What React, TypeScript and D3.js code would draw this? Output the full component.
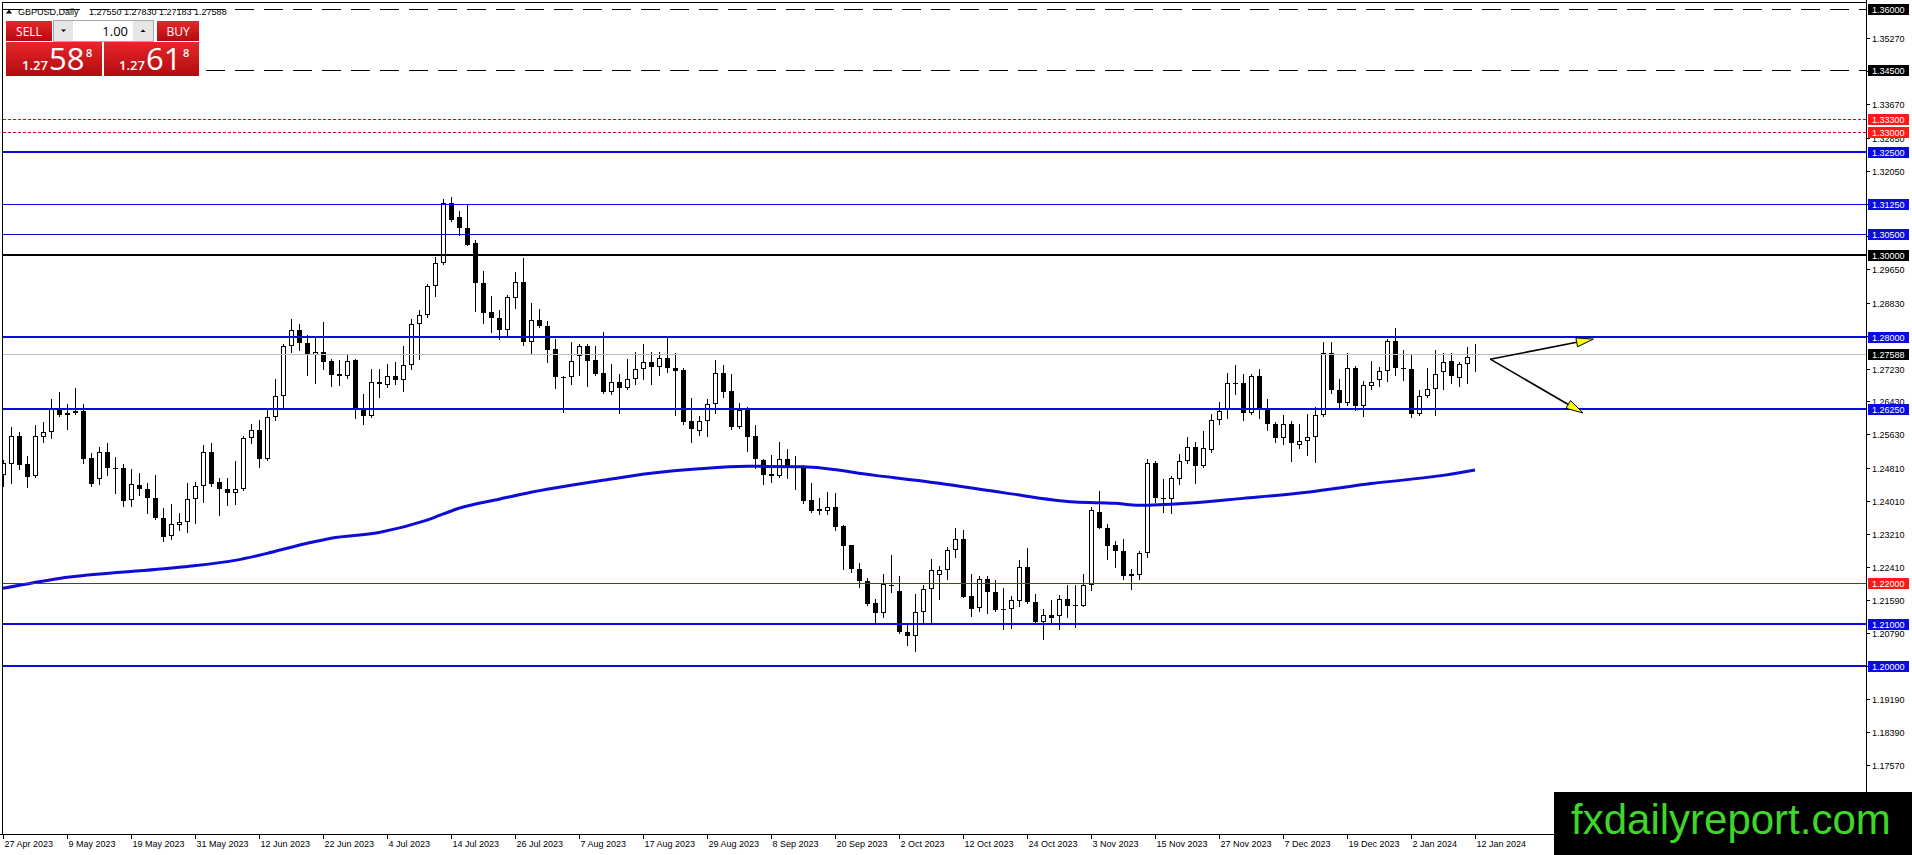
import { useEffect, useRef } from 'react'
import * as d3 from 'd3'

// daily GBPUSD bars, 27 Apr 2023 .. 12 Jan 2024
const dateLabels = [
  '27 Apr 2023', '9 May 2023', '19 May 2023', '31 May 2023', '12 Jun 2023', '22 Jun 2023',
  '4 Jul 2023', '14 Jul 2023', '26 Jul 2023', '7 Aug 2023', '17 Aug 2023', '29 Aug 2023',
  '8 Sep 2023', '20 Sep 2023', '2 Oct 2023', '12 Oct 2023', '24 Oct 2023', '3 Nov 2023',
  '15 Nov 2023', '27 Nov 2023', '7 Dec 2023', '19 Dec 2023', '2 Jan 2024', '12 Jan 2024'
]
const barsPerLabel = 8

const opens = [
  1.2464, 1.2491, 1.2559, 1.2491, 1.2461, 1.2557, 1.2568, 1.2628, 1.2614, 1.2615,
  1.2619, 1.2506, 1.2454, 1.2521, 1.2481, 1.2481, 1.2403, 1.2440, 1.2431, 1.2407,
  1.2359, 1.2316, 1.2342, 1.2349, 1.2405, 1.2437, 1.2521, 1.2446, 1.2431, 1.2419,
  1.2430, 1.2553, 1.2573, 1.2504, 1.2606, 1.2657, 1.2777, 1.2818, 1.2786, 1.2757,
  1.2763, 1.2741, 1.2709, 1.2706, 1.2743, 1.2627, 1.2607, 1.2691, 1.2684, 1.2706,
  1.2696, 1.2733, 1.2832, 1.2853, 1.2925, 1.2981, 1.3126, 1.3093, 1.3066, 1.3030,
  1.2932, 1.2860, 1.2846, 1.2818, 1.2896, 1.2934, 1.2788, 1.2841, 1.2828, 1.2770,
  1.2703, 1.2702, 1.2753, 1.2777, 1.2743, 1.2713, 1.2666, 1.2690, 1.2676, 1.2698,
  1.2723, 1.2739, 1.2727, 1.2750, 1.2725, 1.2719, 1.2595, 1.2572, 1.2595, 1.2638,
  1.2713, 1.2669, 1.2581, 1.2622, 1.2559, 1.2500, 1.2467, 1.2461, 1.2502, 1.2485,
  1.2484, 1.2403, 1.2381, 1.2377, 1.2385, 1.2340, 1.2293, 1.2235, 1.2205, 1.2152,
  1.2129, 1.2197, 1.2182, 1.2082, 1.2071, 1.2130, 1.2186, 1.2220, 1.2233, 1.2282,
  1.2308, 1.2170, 1.2140, 1.2211, 1.2180, 1.2137, 1.2137, 1.2157, 1.2241, 1.2155,
  1.2105, 1.2124, 1.2121, 1.2162, 1.2148, 1.2146, 1.2196, 1.2375, 1.2336, 1.2294,
  1.2279, 1.2218, 1.2220, 1.2274, 1.2492, 1.2409, 1.2406, 1.2453, 1.2499, 1.2531,
  1.2487, 1.2526, 1.2599, 1.2622, 1.2687, 1.2687, 1.2616, 1.2704, 1.2625, 1.2587,
  1.2553, 1.2587, 1.2538, 1.2547, 1.2557, 1.2611, 1.2760, 1.2672, 1.2640, 1.2725,
  1.2632, 1.2681, 1.2696, 1.2718, 1.2790, 1.2725, 1.2723, 1.2612, 1.2656, 1.2674,
  1.2714, 1.2742, 1.2701, 1.2735, 1.2755
]
const highs = [
  1.2500, 1.2581, 1.2569, 1.2510, 1.2585, 1.2594, 1.2649, 1.2666, 1.2636, 1.2677,
  1.2638, 1.2517, 1.2533, 1.2543, 1.2508, 1.2491, 1.2479, 1.2470, 1.2444, 1.2465,
  1.2383, 1.2393, 1.2371, 1.2444, 1.2448, 1.2537, 1.2541, 1.2456, 1.2456, 1.2498,
  1.2559, 1.2588, 1.2598, 1.2623, 1.2697, 1.2784, 1.2845, 1.2832, 1.2804, 1.2800,
  1.2836, 1.2747, 1.2745, 1.2755, 1.2747, 1.2662, 1.2723, 1.2723, 1.2735, 1.2739,
  1.2777, 1.2845, 1.2865, 1.2930, 1.2996, 1.3136, 1.3140, 1.3106, 1.3122, 1.3037,
  1.2960, 1.2901, 1.2865, 1.2903, 1.2958, 1.2992, 1.2884, 1.2869, 1.2839, 1.2796,
  1.2705, 1.2788, 1.2784, 1.2782, 1.2777, 1.2812, 1.2735, 1.2711, 1.2747, 1.2764,
  1.2784, 1.2763, 1.2763, 1.2800, 1.2760, 1.2725, 1.2652, 1.2607, 1.2650, 1.2743,
  1.2731, 1.2711, 1.2640, 1.2630, 1.2585, 1.2504, 1.2512, 1.2544, 1.2527, 1.2510,
  1.2488, 1.2445, 1.2407, 1.2423, 1.2421, 1.2342, 1.2293, 1.2249, 1.2214, 1.2163,
  1.2222, 1.2269, 1.2218, 1.2103, 1.2175, 1.2197, 1.2260, 1.2243, 1.2288, 1.2335,
  1.2330, 1.2223, 1.2218, 1.2217, 1.2209, 1.2188, 1.2170, 1.2257, 1.2286, 1.2175,
  1.2137, 1.2160, 1.2172, 1.2197, 1.2197, 1.2223, 1.2385, 1.2425, 1.2345, 1.2302,
  1.2308, 1.2235, 1.2280, 1.2502, 1.2497, 1.2454, 1.2461, 1.2515, 1.2557, 1.2545,
  1.2571, 1.2612, 1.2642, 1.2712, 1.2731, 1.2709, 1.2711, 1.2721, 1.2649, 1.2593,
  1.2610, 1.2596, 1.2588, 1.2612, 1.2630, 1.2789, 1.2787, 1.2698, 1.2760, 1.2729,
  1.2693, 1.2741, 1.2727, 1.2796, 1.2823, 1.2769, 1.2755, 1.2672, 1.2725, 1.2768,
  1.2762, 1.2762, 1.2739, 1.2776, 1.2783
]
const lows = [
  1.2436, 1.2444, 1.2478, 1.2434, 1.2458, 1.2545, 1.2555, 1.2608, 1.2575, 1.2612,
  1.2494, 1.2438, 1.2442, 1.2464, 1.2419, 1.2389, 1.2389, 1.2415, 1.2371, 1.2356,
  1.2304, 1.2308, 1.2330, 1.2325, 1.2346, 1.2397, 1.2437, 1.2367, 1.2391, 1.2393,
  1.2427, 1.2541, 1.2484, 1.2500, 1.2598, 1.2625, 1.2764, 1.2768, 1.2708, 1.2687,
  1.2723, 1.2681, 1.2683, 1.2701, 1.2603, 1.2587, 1.2605, 1.2654, 1.2679, 1.2685,
  1.2669, 1.2723, 1.2747, 1.2849, 1.2900, 1.2978, 1.3083, 1.3049, 1.3024, 1.2863,
  1.2834, 1.2812, 1.2794, 1.2804, 1.2871, 1.2780, 1.2760, 1.2824, 1.2738, 1.2677,
  1.2618, 1.2685, 1.2707, 1.2681, 1.2707, 1.2664, 1.2662, 1.2614, 1.2674, 1.2685,
  1.2697, 1.2685, 1.2707, 1.2715, 1.2610, 1.2587, 1.2545, 1.2561, 1.2559, 1.2615,
  1.2654, 1.2575, 1.2579, 1.2523, 1.2480, 1.2442, 1.2447, 1.2460, 1.2456, 1.2431,
  1.2395, 1.2375, 1.2368, 1.2369, 1.2330, 1.2235, 1.2227, 1.2191, 1.2148, 1.2107,
  1.2118, 1.2178, 1.2079, 1.2049, 1.2035, 1.2103, 1.2103, 1.2162, 1.2210, 1.2265,
  1.2166, 1.2120, 1.2132, 1.2129, 1.2132, 1.2089, 1.2091, 1.2146, 1.2152, 1.2103,
  1.2065, 1.2103, 1.2089, 1.2118, 1.2094, 1.2146, 1.2184, 1.2334, 1.2259, 1.2239,
  1.2210, 1.2186, 1.2210, 1.2264, 1.2399, 1.2373, 1.2371, 1.2442, 1.2492, 1.2445,
  1.2484, 1.2520, 1.2588, 1.2603, 1.2661, 1.2598, 1.2612, 1.2602, 1.2573, 1.2545,
  1.2539, 1.2499, 1.2530, 1.2512, 1.2496, 1.2607, 1.2664, 1.2626, 1.2634, 1.2622,
  1.2608, 1.2674, 1.2680, 1.2693, 1.2708, 1.2695, 1.2606, 1.2611, 1.2654, 1.2609,
  1.2674, 1.2687, 1.2680, 1.2687, 1.2718
]
const closes = [
  1.2494, 1.2560, 1.2488, 1.2460, 1.2558, 1.2568, 1.2625, 1.2610, 1.2611, 1.2620,
  1.2504, 1.2441, 1.2521, 1.2480, 1.2479, 1.2401, 1.2441, 1.2431, 1.2407, 1.2359,
  1.2314, 1.2344, 1.2349, 1.2405, 1.2437, 1.2521, 1.2442, 1.2429, 1.2419, 1.2431,
  1.2555, 1.2573, 1.2504, 1.2606, 1.2657, 1.2777, 1.2818, 1.2785, 1.2757, 1.2763,
  1.2739, 1.2708, 1.2706, 1.2742, 1.2625, 1.2607, 1.2691, 1.2685, 1.2706, 1.2696,
  1.2733, 1.2832, 1.2854, 1.2925, 1.2981, 1.3126, 1.3085, 1.3066, 1.3025, 1.2931,
  1.2858, 1.2846, 1.2818, 1.2897, 1.2934, 1.2788, 1.2842, 1.2827, 1.2769, 1.2703,
  1.2700, 1.2742, 1.2777, 1.2742, 1.2709, 1.2666, 1.2690, 1.2677, 1.2698, 1.2723,
  1.2739, 1.2727, 1.2750, 1.2725, 1.2717, 1.2593, 1.2575, 1.2595, 1.2638, 1.2713,
  1.2666, 1.2581, 1.2622, 1.2557, 1.2502, 1.2465, 1.2461, 1.2502, 1.2484, 1.2483,
  1.2401, 1.2377, 1.2377, 1.2385, 1.2338, 1.2291, 1.2235, 1.2205, 1.2150, 1.2129,
  1.2198, 1.2193, 1.2081, 1.2071, 1.2130, 1.2187, 1.2233, 1.2233, 1.2282, 1.2308,
  1.2168, 1.2137, 1.2211, 1.2178, 1.2134, 1.2134, 1.2159, 1.2241, 1.2154, 1.2105,
  1.2124, 1.2116, 1.2162, 1.2144, 1.2144, 1.2196, 1.2379, 1.2336, 1.2291, 1.2278,
  1.2217, 1.2223, 1.2274, 1.2492, 1.2409, 1.2406, 1.2456, 1.2499, 1.2531, 1.2487,
  1.2529, 1.2599, 1.2620, 1.2687, 1.2685, 1.2616, 1.2706, 1.2625, 1.2587, 1.2553,
  1.2587, 1.2542, 1.2547, 1.2557, 1.2611, 1.2760, 1.2672, 1.2640, 1.2725, 1.2632,
  1.2684, 1.2691, 1.2718, 1.2790, 1.2725, 1.2722, 1.2612, 1.2657, 1.2674, 1.2711,
  1.2740, 1.2704, 1.2735, 1.2751, 1.2759
]

// moving average, read at a number of bars
const maBars = [0, 7, 22, 29, 33, 37, 41, 47, 53, 57, 62, 66, 71, 75, 81, 87, 93, 100, 109, 117, 125, 134, 139, 142, 148, 155, 163, 171, 180, 184]
const maValues = [
  1.2188, 1.2212, 1.2239, 1.2256, 1.2273, 1.2293, 1.2310, 1.2324, 1.2354, 1.2383,
  1.2405, 1.2422, 1.2439, 1.2451, 1.2468, 1.2479, 1.2485, 1.2484, 1.2463, 1.2444,
  1.2421, 1.2398, 1.2395, 1.2390, 1.2395, 1.2407, 1.2422, 1.2443, 1.2463, 1.2476
]

// horizontal levels drawn on the chart
const levelPrices = [1.36, 1.345, 1.333, 1.33, 1.325, 1.3125, 1.305, 1.3, 1.28, 1.2625, 1.22, 1.21, 1.2]
const lastPrice = 1.27588

// price axis ticks
const tickValues = [
  1.3527, 1.3447, 1.3367, 1.3285, 1.3205, 1.3125, 1.3045, 1.2965, 1.2883, 1.2803,
  1.2723, 1.2643, 1.2563, 1.2481, 1.2401, 1.2321, 1.2241, 1.2159, 1.2079, 1.1999,
  1.1919, 1.1839, 1.1757
]

// the two arrows drawn to the right of the last bar
const arrowStart = { bar: 185.9, price: 1.2746 }
const arrowEnds = [
  { bar: 198.8, price: 1.2795 },
  { bar: 197.5, price: 1.2615 }
]

const symbolTitle = 'GBPUSD,Daily'
const ohlcTitle = '1.27550 1.27830 1.27183 1.27588'
const sellQuote = ['1.27', '58', '8']
const buyQuote = ['1.27', '61', '8']

const BLUE = '#0a0ae6'
const RED = '#ee0000'
const levelStyles = [
  { stroke: '#000', width: 1, dash: '19,10', box: '#000' },
  { stroke: '#000', width: 1, dash: '19,10', box: '#000' },
  { stroke: RED, width: 1, dash: '3,2', box: '#ff1a1a' },
  { stroke: RED, width: 1, dash: '3,2', box: '#ff1a1a' },
  { stroke: BLUE, width: 2, dash: null, box: BLUE },
  { stroke: BLUE, width: 1, dash: null, box: BLUE },
  { stroke: BLUE, width: 1, dash: null, box: BLUE },
  { stroke: '#000', width: 2, dash: null, box: '#000' },
  { stroke: BLUE, width: 2, dash: null, box: BLUE },
  { stroke: BLUE, width: 2, dash: null, box: BLUE },
  { stroke: '#dd0000', width: 1, dash: null, box: '#ff1a1a' },
  { stroke: BLUE, width: 2, dash: null, box: BLUE },
  { stroke: BLUE, width: 2, dash: null, box: BLUE }
]

const W = 1912
const H = 855

export default function App() {
  const svgRef = useRef<SVGSVGElement>(null)

  useEffect(() => {
    if (!svgRef.current) return
    const svg = d3.select(svgRef.current)
    svg.selectAll('*').remove()

    const axisX = 1866
    const axisY = 834
    const font = '"Liberation Sans", Arial, sans-serif'
    const panelFont = '"Open Sans", "Noto Sans", sans-serif'

    const x = d3.scaleLinear().domain([0, opens.length - 1]).range([3, 3 + 8 * (opens.length - 1)])
    const y = d3.scaleLinear().domain([1.2, 1.36]).range([665.5, 8.5])

    svg.append('rect').attr('width', W).attr('height', H).attr('fill', '#fff')

    const defs = svg.append('defs')
    defs.append('clipPath').attr('id', 'plot-clip')
      .append('rect').attr('x', 3).attr('y', 3).attr('width', axisX - 3).attr('height', axisY - 3)
    const red = defs.append('linearGradient').attr('id', 'red-grad')
      .attr('x1', '0%').attr('y1', '0%').attr('x2', '0%').attr('y2', '100%')
    red.append('stop').attr('offset', '0%').attr('stop-color', '#e8262b')
    red.append('stop').attr('offset', '100%').attr('stop-color', '#b10b0e')

    // frame
    const frame = svg.append('g').attr('shape-rendering', 'crispEdges')
    frame.append('line').attr('x1', 2.5).attr('x2', 2.5).attr('y1', 2).attr('y2', axisY).attr('stroke', '#000')
    frame.append('line').attr('x1', 2).attr('x2', axisX).attr('y1', 2.5).attr('y2', 2.5).attr('stroke', '#000')
    frame.append('line').attr('x1', 0).attr('x2', axisX + 1).attr('y1', axisY + 0.5).attr('y2', axisY + 0.5).attr('stroke', '#000')
    frame.append('line').attr('x1', axisX + 0.5).attr('x2', axisX + 0.5).attr('y1', 0).attr('y2', axisY + 1).attr('stroke', '#000')

    // candles
    const bars = d3.range(opens.length)
    const plot = svg.append('g').attr('clip-path', 'url(#plot-clip)').attr('shape-rendering', 'crispEdges')
    plot.selectAll('line.wick').data(bars).join('line')
      .attr('class', 'wick')
      .attr('x1', i => Math.round(x(i)) + 0.5)
      .attr('x2', i => Math.round(x(i)) + 0.5)
      .attr('y1', i => Math.round(y(highs[i])))
      .attr('y2', i => Math.round(y(lows[i])) + 1)
      .attr('stroke', '#000')
    plot.selectAll('rect.body').data(bars).join('rect')
      .attr('class', 'body')
      .each(function (i) {
        const cx = Math.round(x(i))
        const top = Math.round(y(Math.max(opens[i], closes[i])))
        const bot = Math.round(y(Math.min(opens[i], closes[i])))
        const h = Math.max(bot - top, 1)
        const el = d3.select(this)
        if (closes[i] >= opens[i]) {
          el.attr('x', cx - 1.5).attr('y', top + 0.5).attr('width', 4).attr('height', Math.max(h - 1, 0.01))
            .attr('fill', '#fff').attr('stroke', '#000')
        } else {
          el.attr('x', cx - 2).attr('y', top).attr('width', 5).attr('height', h).attr('fill', '#000')
        }
      })

    // moving average
    const maLine = d3.line<number>()
      .x((d, i) => x(maBars[i]))
      .y(d => y(d))
      .curve(d3.curveMonotoneX)
    svg.append('path')
      .attr('clip-path', 'url(#plot-clip)')
      .attr('d', maLine(maValues))
      .attr('fill', 'none')
      .attr('stroke', '#0c0cd6')
      .attr('stroke-width', 3)

    // horizontal levels
    const levels = svg.append('g').attr('clip-path', 'url(#plot-clip)').attr('shape-rendering', 'crispEdges')
    levelPrices.forEach((p, k) => {
      const st = levelStyles[k]
      const py = Math.round(y(p)) + (st.width === 1 ? 0.5 : 0)
      const ln = levels.append('line')
        .attr('x1', 3).attr('x2', axisX).attr('y1', py).attr('y2', py)
        .attr('stroke', st.stroke).attr('stroke-width', st.width)
      if (st.dash) ln.attr('stroke-dasharray', st.dash)
    })
    const lastY = Math.round(y(lastPrice)) + 0.5
    levels.append('line').attr('x1', 3).attr('x2', axisX).attr('y1', lastY).attr('y2', lastY)
      .attr('stroke', '#c0c0c0')

    // arrows
    const arrows = svg.append('g')
    const sx = x(arrowStart.bar)
    const sy = y(arrowStart.price)
    arrowEnds.forEach(e => {
      const ex = x(e.bar)
      const ey = y(e.price)
      const len = Math.hypot(ex - sx, ey - sy)
      const ux = (ex - sx) / len
      const uy = (ey - sy) / len
      const bx = ex - ux * 17
      const by = ey - uy * 17
      arrows.append('line').attr('x1', sx).attr('y1', sy).attr('x2', bx).attr('y2', by)
        .attr('stroke', '#000').attr('stroke-width', 1.6)
      arrows.append('polygon')
        .attr('points', [[ex, ey], [bx - uy * 4.5, by + ux * 4.5], [bx + uy * 4.5, by - ux * 4.5]].map(q => q.join(',')).join(' '))
        .attr('fill', '#ffff00').attr('stroke', '#000').attr('stroke-width', 1)
    })

    // price axis
    const yAxis = svg.append('g').attr('font-family', font).attr('font-size', 9)
    tickValues.forEach(v => {
      const ty = Math.round(y(v)) + 0.5
      yAxis.append('line').attr('x1', axisX).attr('x2', axisX + 4).attr('y1', ty).attr('y2', ty)
        .attr('stroke', '#000').attr('shape-rendering', 'crispEdges')
      yAxis.append('text').attr('x', axisX + 6).attr('y', ty + 3.3).attr('fill', '#000').text(v.toFixed(5))
    })
    const boxes = [...levelPrices.map((p, k) => ({ p, c: levelStyles[k].box })), { p: lastPrice, c: '#000' }]
    boxes.forEach(b => {
      const by = Math.round(y(b.p))
      yAxis.append('rect').attr('x', axisX + 2).attr('y', by - 5).attr('width', 41).attr('height', 11)
        .attr('fill', b.c).attr('shape-rendering', 'crispEdges')
      yAxis.append('text').attr('x', axisX + 6).attr('y', by + 3.8).attr('fill', '#fff').text(b.p.toFixed(5))
    })

    // time axis
    const xAxis = svg.append('g').attr('font-family', font).attr('font-size', 9)
    dateLabels.forEach((lab, k) => {
      const tx = Math.round(x(k * barsPerLabel)) + 0.5
      xAxis.append('line').attr('x1', tx).attr('x2', tx).attr('y1', axisY).attr('y2', axisY + 5)
        .attr('stroke', '#000').attr('shape-rendering', 'crispEdges')
      xAxis.append('text').attr('x', tx + 1).attr('y', axisY + 13).attr('fill', '#000').text(lab)
    })

    // title line
    svg.append('polygon').attr('points', '6,13.5 12,13.5 9,9.5').attr('fill', '#000')
    svg.append('text').attr('x', 18).attr('y', 15).attr('font-family', font).attr('font-size', 9)
      .attr('fill', '#000').text(symbolTitle)
    svg.append('text').attr('x', 89).attr('y', 15).attr('font-family', font).attr('font-size', 9)
      .attr('fill', '#000').attr('xml:space', 'preserve').text(ohlcTitle)

    // one-click trading panel
    const panel = svg.append('g').attr('font-family', panelFont)
    panel.append('rect').attr('x', 3).attr('y', 18).attr('width', 199).attr('height', 60).attr('fill', '#fff')
    panel.append('rect').attr('x', 6).attr('y', 21).attr('width', 46).attr('height', 20).attr('fill', 'url(#red-grad)')
    panel.append('rect').attr('x', 157).attr('y', 21).attr('width', 42).attr('height', 20).attr('fill', 'url(#red-grad)')
    panel.append('text').attr('x', 29).attr('y', 35.5).attr('text-anchor', 'middle').attr('font-size', 12)
      .attr('fill', '#fff').text('SELL')
    panel.append('text').attr('x', 178).attr('y', 35.5).attr('text-anchor', 'middle').attr('font-size', 12)
      .attr('fill', '#fff').text('BUY')
    panel.append('rect').attr('x', 53.5).attr('y', 20.5).attr('width', 100).attr('height', 21)
      .attr('fill', '#fff').attr('stroke', '#a8a8a8')
    panel.append('rect').attr('x', 54).attr('y', 21).attr('width', 19).attr('height', 20).attr('fill', '#e6e6e6')
    panel.append('rect').attr('x', 133).attr('y', 21).attr('width', 20).attr('height', 20).attr('fill', '#e6e6e6')
    panel.append('polygon').attr('points', '61,29.5 66,29.5 63.5,32').attr('fill', '#000')
    panel.append('polygon').attr('points', '140.5,32 145.5,32 143,29.5').attr('fill', '#000')
    panel.append('text').attr('x', 128).attr('y', 35.5).attr('text-anchor', 'end').attr('font-size', 13)
      .attr('fill', '#000').text('1.00')

    const quote = (x0: number, w: number, q: string[], tx: number) => {
      panel.append('rect').attr('x', x0).attr('y', 42).attr('width', w).attr('height', 34).attr('fill', 'url(#red-grad)')
      panel.append('text').attr('x', tx).attr('y', 70).attr('font-size', 13).attr('font-weight', 600)
        .attr('fill', '#fff').text(q[0])
      panel.append('text').attr('x', tx + 27).attr('y', 69.5).attr('font-size', 31)
        .attr('fill', '#fff').text(q[1])
      panel.append('text').attr('x', tx + 64).attr('y', 57).attr('font-size', 11).attr('font-weight', 600)
        .attr('fill', '#fff').text(q[2])
    }
    quote(6, 96, sellQuote, 22)
    quote(104, 95, buyQuote, 119)

    // watermark
    svg.append('rect').attr('x', 1554).attr('y', 792).attr('width', W - 1554).attr('height', H - 792).attr('fill', '#000')
    svg.append('text').attr('x', 1571).attr('y', 834).attr('font-family', font).attr('font-size', 42)
      .attr('fill', '#3fd62a').text('fxdailyreport.com')
  }, [])

  return (
    <svg
      ref={svgRef}
      width={W}
      height={H}
      style={{ position: 'absolute', left: 0, top: 0, display: 'block' }}
    />
  )
}
